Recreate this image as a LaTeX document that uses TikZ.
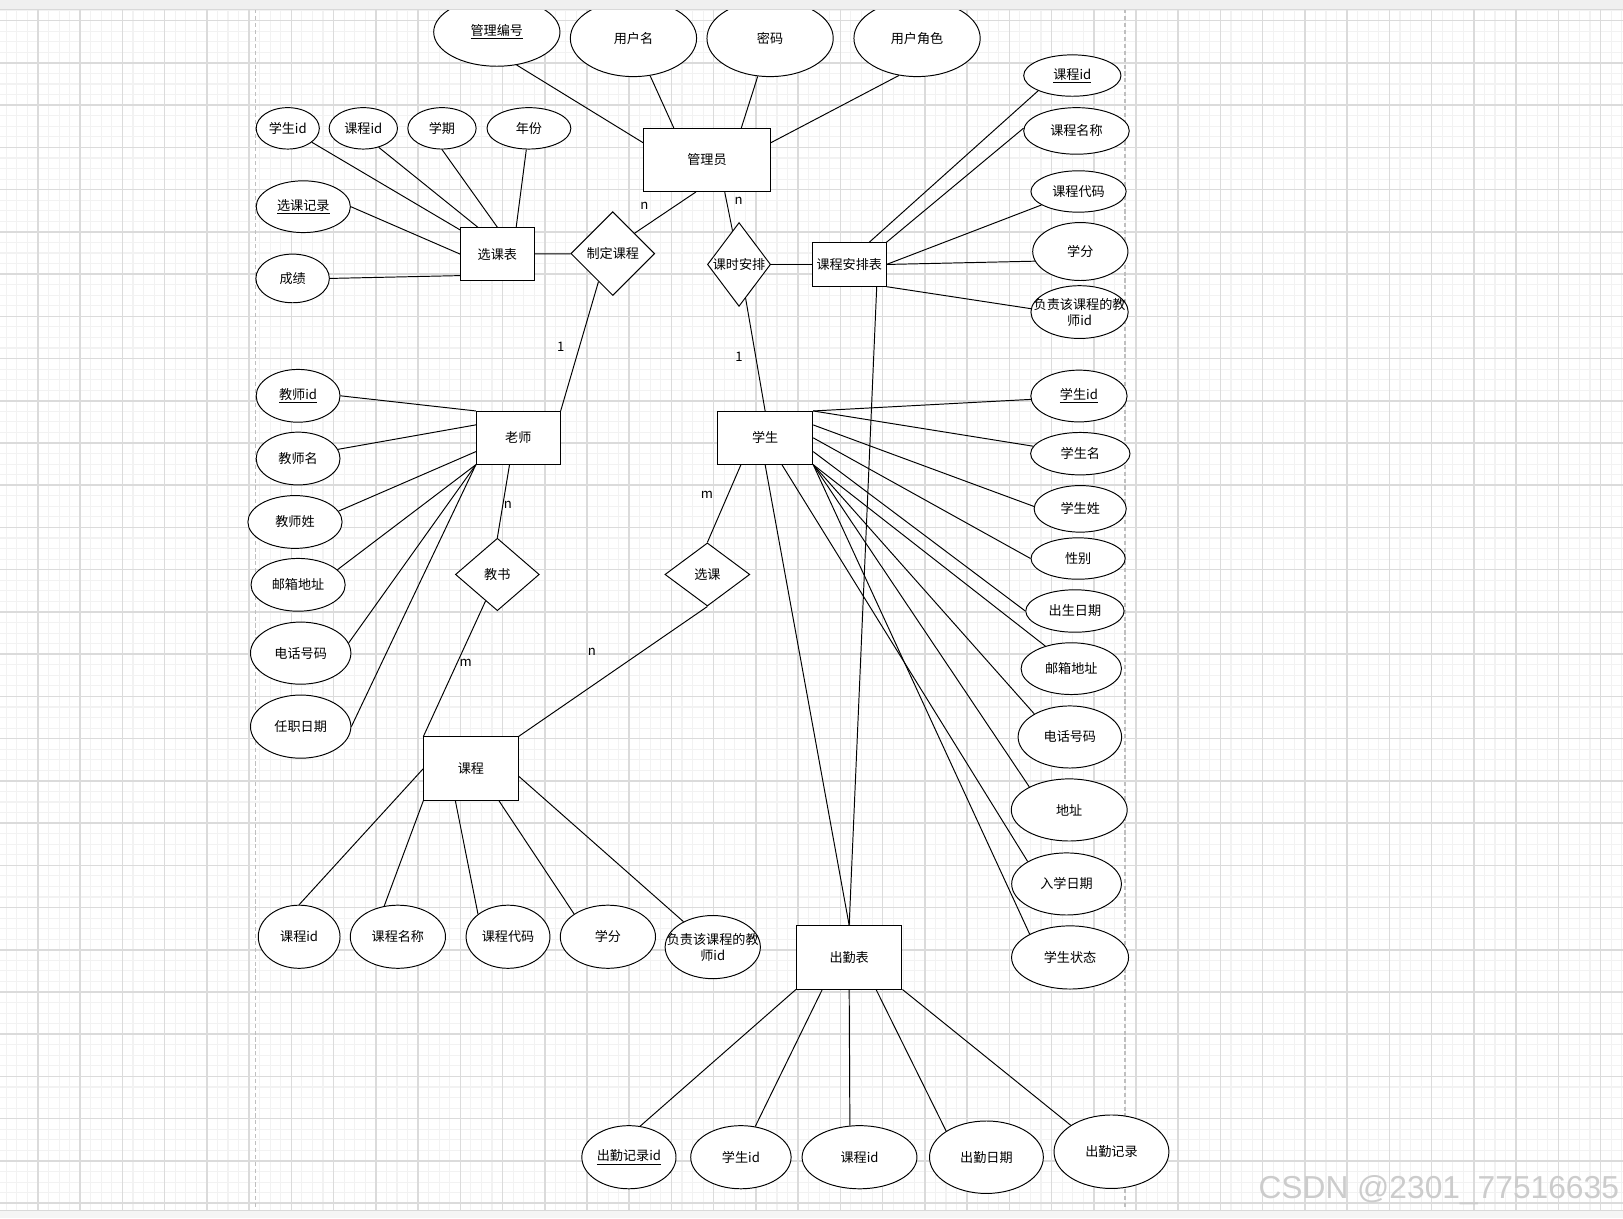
\documentclass[tikz,border=0pt]{standalone}
\usepackage{fontspec}
\setmainfont{Noto Sans CJK SC}
\newfontfamily\wmfont{Liberation Sans}
\usetikzlibrary{shapes.geometric}

\begin{document}
\begin{tikzpicture}[
  x=0.75pt,
  y=-0.75pt,
  font=\fontsize{9.5}{11.5}\selectfont,
  sz/.style 2 args={minimum width=#1*0.75pt, minimum height=#2*0.75pt},
  ent/.style={draw, fill=white, inner sep=0pt, line width=0.7pt},
  attr/.style={draw, ellipse, fill=white, inner sep=0pt, line width=0.7pt},
  rel/.style={draw, diamond, fill=white, inner sep=0pt, line width=0.7pt, label=center:#1},
  card/.style={inner sep=0pt},
  link/.style={line width=0.7pt},
  gridminor/.style={black!5, line width=0.8pt},
  gridmajor/.style={black!14, line width=1.1pt},
  pageline/.style={black!25, line width=1pt, dash pattern=on 3pt off 2pt}
]
  \useasboundingbox (0,0) rectangle (1568,1177);
  \fill[white] (0,0) rectangle (1568,1177);

  % grid
  \foreach \gx in {0,...,153} \draw[gridminor] ({6.1+10.2*\gx},9) -- ({6.1+10.2*\gx},1169);
  \foreach \gy in {0,...,113} \draw[gridminor] (0,{9.8+10.2*\gy}) -- (1568,{9.8+10.2*\gy});
  \foreach \gx in {0,...,37} \draw[gridmajor] ({36.7+40.8*\gx},9) -- ({36.7+40.8*\gx},1169);
  \foreach \gy in {0,...,28} \draw[gridmajor] (0,{20+40.8*\gy}) -- (1568,{20+40.8*\gy});
  \draw[pageline] (247,9) -- (247,1169);
  \draw[pageline] (1087,9) -- (1087,1169);

  % 管理员
  \node[ent, sz={122}{61}] (admin) at (683,154.5) {管理员};
  \node[attr, sz={122}{66}] (glbh) at (480,31) {\underline{管理编号}};
  \node[attr, sz={122}{74}] (yhm) at (612,37) {用户名};
  \node[attr, sz={122}{74}] (mm) at (744,37) {密码};
  \node[attr, sz={122}{74}] (yhjs) at (886,37) {用户角色};

  \node[rel=制定课程, sz={81}{81}] (zdkc) at (592,245) {};
  \node[rel=课时安排, sz={61}{81}] (kssp) at (714,255.5) {};

  % 课程安排表
  \node[ent, sz={71}{42}] (kcapb) at (820.5,255.5) {课程安排表};
  \node[attr, sz={94}{40}] (kcid2) at (1036,73) {\underline{课程id}};
  \node[attr, sz={102}{45}] (kcmc2) at (1040,126.5) {课程名称};
  \node[attr, sz={92}{40}] (kcdm2) at (1042,185) {课程代码};
  \node[attr, sz={92}{56}] (xf2) at (1043.7,243) {学分};
  \node[attr, sz={94}{51}, label={[align=center]center:负责该课程的教\\师id}] (fzjs2) at (1043,301.5) {};

  % 选课表
  \node[ent, sz={71}{51}] (xkb) at (480.5,245.5) {选课表};
  \node[attr, sz={61}{40}] (xsid1) at (278,124) {学生id};
  \node[attr, sz={66}{40}] (kcid1) at (351,124) {课程id};
  \node[attr, sz={66}{40}] (xq) at (427,124) {学期};
  \node[attr, sz={81}{40}] (nf) at (511,124) {年份};
  \node[attr, sz={91}{50}] (xkjl) at (293,199.7) {\underline{选课记录}};
  \node[attr, sz={71}{47}] (cj) at (282.7,269) {成绩};

  % 老师
  \node[ent, sz={81}{51}] (js) at (500.7,423) {老师};
  \node[attr, sz={81}{51}] (jsid) at (288,382.4) {\underline{教师id}};
  \node[attr, sz={81}{51}] (jsm) at (288,443) {教师名};
  \node[attr, sz={91}{51}] (jsx) at (285,504.3) {教师姓};
  \node[attr, sz={91}{51}] (yx1) at (288,565) {邮箱地址};
  \node[attr, sz={97}{60}] (dh1) at (290.5,631) {电话号码};
  \node[attr, sz={97}{61}] (rz) at (290.5,702) {任职日期};

  \node[rel=教书, sz={81}{70}] (jiaoshu) at (480.5,555) {};
  \node[rel=选课, sz={82}{61}] (xk) at (683.4,555) {};

  % 学生
  \node[ent, sz={92}{51}] (xs) at (739.2,423) {学生};
  \node[attr, sz={93}{50}] (xsid2) at (1042.4,382.6) {\underline{学生id}};
  \node[attr, sz={96}{41}] (xsm) at (1043.7,438.3) {学生名};
  \node[attr, sz={89}{45}] (xsx) at (1043.6,491.6) {学生姓};
  \node[attr, sz={91}{40}] (xb) at (1041.6,539.6) {性别};
  \node[attr, sz={95}{41}] (csrq) at (1038.5,590.3) {出生日期};
  \node[attr, sz={97}{50}] (yx2) at (1035,646) {邮箱地址};
  \node[attr, sz={100}{60}] (dh2) at (1033.6,712) {电话号码};
  \node[attr, sz={112}{60}] (dz) at (1033,782.5) {地址};
  \node[attr, sz={106}{60}] (rxrq) at (1030.4,854) {入学日期};
  \node[attr, sz={113}{61}] (xszt) at (1033.8,925) {学生状态};

  % 课程
  \node[ent, sz={91}{61}] (kc) at (455,742.5) {课程};
  \node[attr, sz={79}{61}] (kcid3) at (289,905) {课程id};
  \node[attr, sz={92}{61}] (kcmc3) at (384.4,905) {课程名称};
  \node[attr, sz={81}{61}] (kcdm3) at (490.8,905) {课程代码};
  \node[attr, sz={92}{61}] (xf3) at (587.3,905) {学分};
  \node[attr, sz={92}{61}, label={[align=center]center:负责该课程的教\\师id}] (fzjs3) at (688.6,915) {};

  % 出勤表
  \node[ent, sz={102}{61}] (cqb) at (820.4,925) {出勤表};
  \node[attr, sz={91}{61}] (cqjlid) at (607.6,1118) {\underline{出勤记录id}};
  \node[attr, sz={97}{61}] (xsid3) at (715.8,1118) {学生id};
  \node[attr, sz={111}{61}] (kcid4) at (830.4,1118) {课程id};
  \node[attr, sz={110}{70}] (cqrq) at (953,1118) {出勤日期};
  \node[attr, sz={111}{71}] (cqjl) at (1073.8,1112.7) {出勤记录};

  % cardinalities
  \node[card] (n-zd) at (622.5,199) {n};
  \node[card] (n-ks) at (713.7,194) {n};
  \node[card] (one-zd) at (541.7,335) {1};
  \node[card] (one-ks) at (714,344.6) {1};
  \node[card] (n-js) at (490.7,488) {n};
  \node[card] (m-js) at (450,640.3) {m};
  \node[card] (m-xk) at (683,478.3) {m};
  \node[card] (n-xk) at (571.8,629.6) {n};

  % links
  \draw[link] (glbh.-59) -- (admin.165);
  \draw[link] (yhm.-66) -- (admin.136);
  \draw[link] (mm.-108) -- (admin.43);
  \draw[link] (yhjs.-116) -- (admin.15);
  \draw[link] (admin.-109) -- (zdkc.43);
  \draw[link] (xkb) -- (zdkc);
  \draw[link] (zdkc.-117) -- (js.north east);
  \draw[link] (admin.-61) -- (kssp.101);
  \draw[link] (kssp) -- (kcapb);
  \draw[link] (kssp.-79) -- (xs.north);

  \draw[link] (kcapb.48) -- (kcid2.-156);
  \draw[link] (kcapb.north east) -- (kcmc2.177);
  \draw[link] (kcapb.east) -- (kcdm2.-160);
  \draw[link] (kcapb.east) -- (xf2.-168);
  \draw[link] (kcapb.south east) -- (fzjs2.176);
  \draw[link] (kcapb.-39) -- (cqb.north);

  \draw[link] (xsid1.-30) -- (xkb.147);
  \draw[link] (kcid1.-51) -- (xkb.126);
  \draw[link] (xq.south) -- (xkb.north);
  \draw[link] (nf.-97) -- (xkb.55);
  \draw[link] (xkjl.east) -- (xkb.west);
  \draw[link] (cj.east) -- (xkb.-150);

  \draw[link] (jsid.east) -- (js.north west);
  \draw[link] (jsm.13) -- (js.163);
  \draw[link] (jsx.14) -- (js.-162);
  \draw[link] (yx1.21) -- (js.south west);
  \draw[link] (dh1.12) -- (js.south west);
  \draw[link] (rz.east) -- (js.south west);
  \draw[link] (js.-108) -- (jiaoshu.north);
  \draw[link] (jiaoshu.-114) -- (kc.north west);

  \draw[link] (xs.-132) -- (xk.north);
  \draw[link] (xk.south) -- (kc.north east);
  \draw[link] (xs.south) -- (cqb.north);
  \draw[link] (xs.north east) -- (xsid2.-176);
  \draw[link] (xs.north east) -- (xsm.171);
  \draw[link] (xs.15) -- (xsx.177);
  \draw[link] (xs.east) -- (xb.west);
  \draw[link] (xs.-16) -- (csrq.west);
  \draw[link] (xs.south east) -- (yx2.139);
  \draw[link] (xs.south east) -- (dh2.147);
  \draw[link] (xs.south east) -- (dz.150);
  \draw[link] (xs.-58) -- (rxrq.150);
  \draw[link] (xs.south east) -- (xszt.150);

  \draw[link] (kc.west) -- (kcid3.north);
  \draw[link] (kc.south west) -- (kcmc3.114);
  \draw[link] (kc.-116) -- (kcdm3.143);
  \draw[link] (kc.-49) -- (xf3.146);
  \draw[link] (kc.-9) -- (fzjs3.139);

  \draw[link] (cqb.south west) -- (cqjlid.70);
  \draw[link] (cqb.-130) -- (xsid3.65);
  \draw[link] (cqb.south) -- (kcid4.107);
  \draw[link] (cqb.-50) -- (cqrq.147);
  \draw[link] (cqb.south east) -- (cqjl.147);

  % page strips and watermark
  \fill[black!6] (0,0) rectangle (1568,9);
  \draw[black!15] (0,9) -- (1568,9);
  \fill[black!4] (0,1169) rectangle (1568,1177);
  \draw[black!15] (0,1169) -- (1568,1169);
  \node[font=\wmfont\fontsize{23}{23}\selectfont, text=black!20, inner sep=0pt] (mark) at (1390,1150) {CSDN @2301\_77516635};
\end{tikzpicture}
\end{document}
